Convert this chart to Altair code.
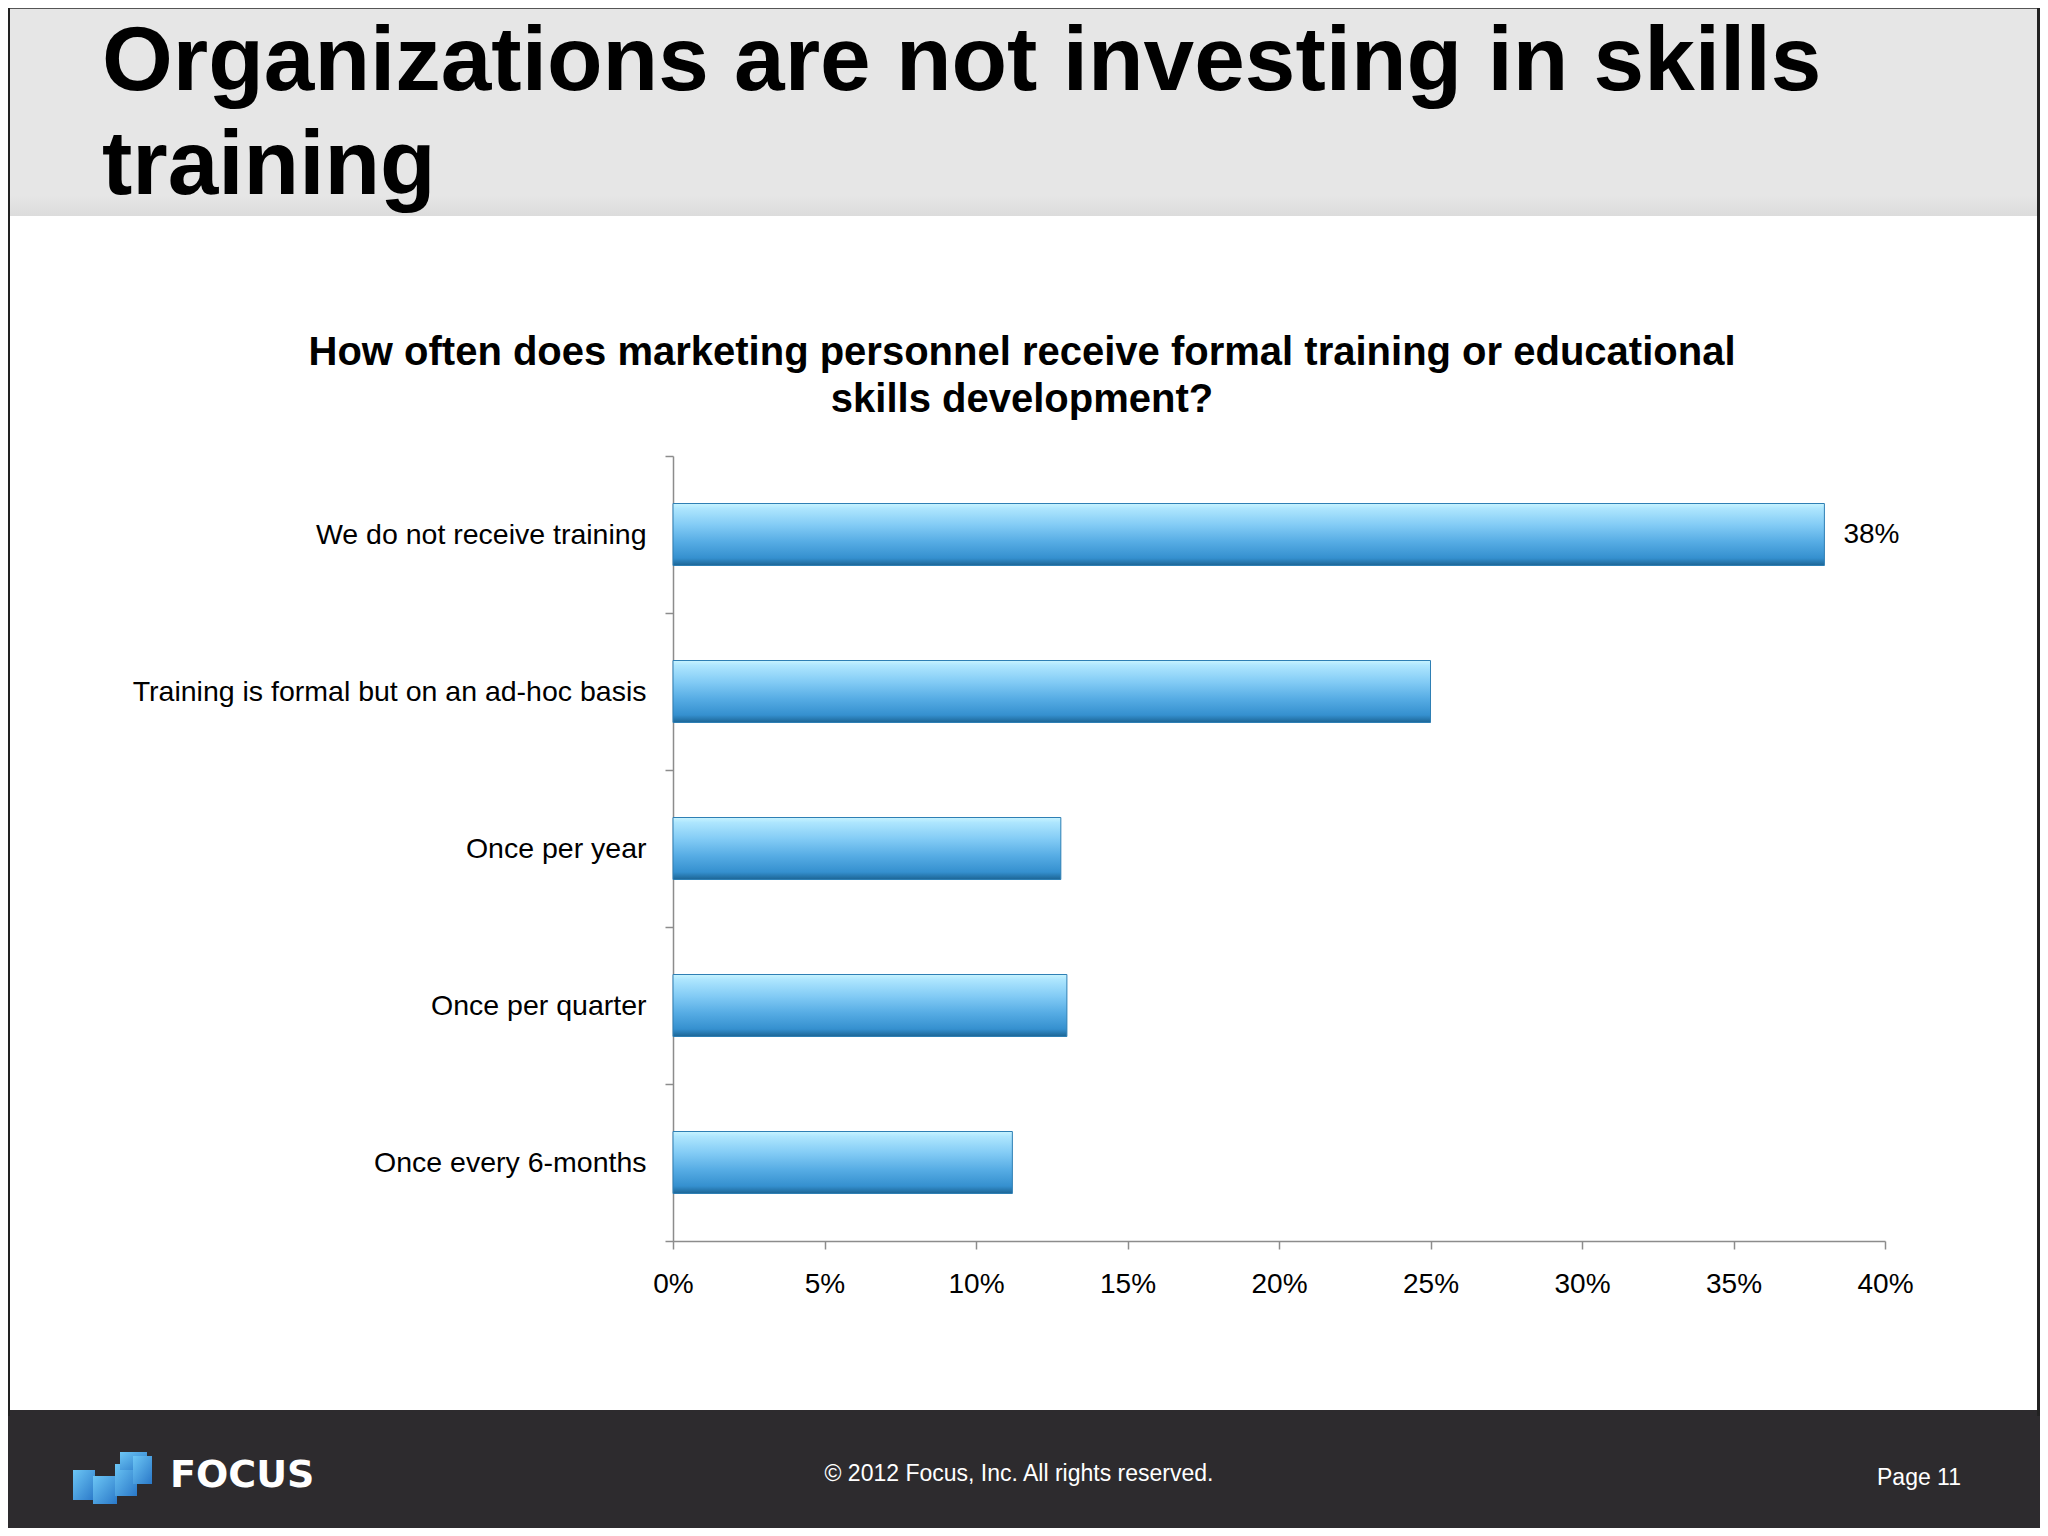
import altair as alt
import pandas as pd

# ---- data ----
categories = [
    "We do not receive training",
    "Training is formal but on an ad-hoc basis",
    "Once per year",
    "Once per quarter",
    "Once every 6-months",
]
values = [38, 25, 12.8, 13, 11.2]
bar_labels = ["38%", "", "", "", ""]
x_ticks = [0, 5, 10, 15, 20, 25, 30, 35, 40]

slide_title = ["Organizations are not investing in skills", "training"]
chart_title = [
    "How often does marketing personnel receive formal training or educational",
    "skills development?",
]
footer_brand = "FOCUS"
footer_copy = "\u00a9 2012 Focus, Inc. All rights reserved."
footer_page = "Page 11"

df = pd.DataFrame({"category": categories, "value": values, "label": bar_labels})
one = pd.DataFrame({"d": [0]})

W, H = 1212, 785
FONT = "Liberation Sans"
AXIS_GRAY = "#8c8c8c"

bar_gradient = {
    "gradient": "linear",
    "x1": 0, "y1": 0, "x2": 0, "y2": 1,
    "stops": [
        {"offset": 0.0, "color": "#c8f4ff"},
        {"offset": 0.08, "color": "#aee6fe"},
        {"offset": 0.35, "color": "#82cbf5"},
        {"offset": 0.62, "color": "#56ace4"},
        {"offset": 0.88, "color": "#3590cf"},
        {"offset": 1.0, "color": "#1c6595"},
    ],
}

y_enc = alt.Y(
    "category:N",
    sort=categories,
    scale=alt.Scale(paddingInner=0, paddingOuter=0),
    axis=alt.Axis(
        title=None,
        tickBand="extent",
        labelFontSize=28.5,
        labelFont=FONT,
        labelColor="black",
        labelPadding=19,
        labelLimit=800,
        tickSize=8,
        tickColor=AXIS_GRAY,
        tickWidth=1.5,
        domainColor=AXIS_GRAY,
        domainWidth=1.5,
        grid=False,
    ),
)
x_enc = alt.X(
    "value:Q",
    scale=alt.Scale(domain=[0, 40], nice=False),
    axis=alt.Axis(
        title=None,
        values=x_ticks,
        labelExpr="datum.value + '%'",
        labelFontSize=28,
        labelFont=FONT,
        labelColor="black",
        labelPadding=21,
        labelFlush=False,
        tickSize=8,
        tickColor=AXIS_GRAY,
        tickWidth=1.5,
        domainColor=AXIS_GRAY,
        domainWidth=1.5,
        grid=False,
    ),
)

bars = alt.Chart(df).mark_bar(
    size=62, color=bar_gradient, stroke="#2e7fb4", strokeWidth=1
).encode(x=x_enc, y=y_enc)

bar_text = alt.Chart(df).mark_text(
    align="left", baseline="middle", dx=19, fontSize=28, font=FONT, color="black"
).encode(x="value:Q", y=alt.Y("category:N", sort=categories), text="label:N")

# ---- decorations (pixel positions relative to the plot area) ----
header = alt.Chart(one).mark_rect(color="#e6e6e6").encode(
    x=alt.value(-700), x2=alt.value(1400), y=alt.value(-470), y2=alt.value(-240)
)
header_shade = alt.Chart(one).mark_rect(
    color={"gradient": "linear", "x1": 0, "y1": 0, "x2": 0, "y2": 1,
           "stops": [{"offset": 0, "color": "#e6e6e6"}, {"offset": 1, "color": "#dcdcdc"}]}
).encode(x=alt.value(-700), x2=alt.value(1400), y=alt.value(-260), y2=alt.value(-240))
header_line = alt.Chart(one).mark_rect(color="#555555").encode(
    x=alt.value(-700), x2=alt.value(1400), y=alt.value(-450), y2=alt.value(-447)
)
footer = alt.Chart(one).mark_rect(color="#2d2b2e").encode(
    x=alt.value(-700), x2=alt.value(1400), y=alt.value(954), y2=alt.value(1100)
)
left_border = alt.Chart(one).mark_rect(color="#222222").encode(
    x=alt.value(-666), x2=alt.value(-663), y=alt.value(-450), y2=alt.value(960)
)
right_border = alt.Chart(one).mark_rect(color="#222222").encode(
    x=alt.value(1364), x2=alt.value(1367), y=alt.value(-450), y2=alt.value(960)
)

title_text = alt.Chart(one).mark_text(
    text=slide_title, align="left", baseline="alphabetic", fontSize=91,
    fontWeight="bold", font=FONT, color="black", lineHeight=104,
).encode(x=alt.value(-571), y=alt.value(-366))

chart_title_text = alt.Chart(one).mark_text(
    text=chart_title, align="center", baseline="alphabetic", fontSize=40,
    fontWeight="bold", font=FONT, color="black", lineHeight=47,
).encode(x=alt.value(349), y=alt.value(-91))

logo_grad = {
    "gradient": "linear", "x1": 0, "y1": 0, "x2": 1, "y2": 1,
    "stops": [{"offset": 0, "color": "#6cc6f5"}, {"offset": 1, "color": "#2a78c8"}],
}
logo_boxes = [
    (-600, -578, 1014, 1044),
    (-580, -556, 1020, 1048),
    (-558, -536, 1008, 1040),
    (-553, -526, 996, 1014),
    (-540, -521, 1000, 1028),
]
logo = [
    alt.Chart(one).mark_rect(color=logo_grad).encode(
        x=alt.value(a), x2=alt.value(b), y=alt.value(c), y2=alt.value(d)
    )
    for a, b, c, d in logo_boxes
]

brand_text = alt.Chart(one).mark_text(
    text=footer_brand, align="left", baseline="alphabetic", fontSize=38,
    fontWeight="bold", font="DejaVu Sans", color="white",
).encode(x=alt.value(-503), y=alt.value(1031))

copy_text = alt.Chart(one).mark_text(
    text=footer_copy, align="center", baseline="alphabetic", fontSize=23,
    font=FONT, color="white",
).encode(x=alt.value(346), y=alt.value(1025))

page_text = alt.Chart(one).mark_text(
    text=footer_page, align="center", baseline="alphabetic", fontSize=23,
    font=FONT, color="white",
).encode(x=alt.value(1246), y=alt.value(1029))

chart = alt.layer(
    header, header_shade, header_line, footer, left_border, right_border, *logo,
    title_text, chart_title_text, brand_text, copy_text, page_text,
    bars, bar_text,
).properties(
    width=W,
    height=H,
    autosize=alt.AutoSizeParams(type="none"),
    padding={"left": 665, "top": 448, "right": 155, "bottom": 287},
    background="white",
).configure_view(stroke="transparent")

chart.save("out.html", embed_options={"renderer": "svg", "actions": False})
